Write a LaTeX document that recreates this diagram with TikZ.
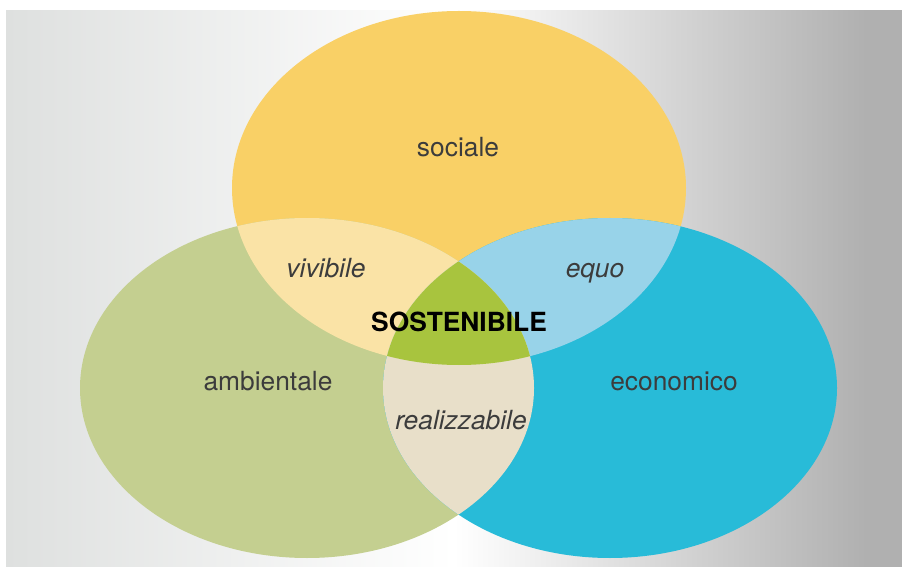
\documentclass[tikz,border=0pt]{standalone}
\usepackage{fontspec}
\setmainfont{TeX Gyre Heros}
\usepackage{xcolor}
\usepackage{tikz}
\usetikzlibrary{positioning, calc}

\definecolor{bgL}{RGB}{222,224,223}
\definecolor{bgR}{RGB}{176,176,176}
\definecolor{socFill}{RGB}{249,208,102}
\definecolor{ambFill}{RGB}{196,207,144}
\definecolor{ecoFill}{RGB}{40,187,216}
\definecolor{vivFill}{RGB}{250,227,166}
\definecolor{equFill}{RGB}{152,211,233}
\definecolor{reaFill}{RGB}{232,223,201}
\definecolor{sosFill}{RGB}{168,196,62}
\definecolor{txtGray}{RGB}{60,60,60}

% background: light gray -> white (middle) -> darker gray
\pgfdeclarehorizontalshading{bgshade}{100bp}{color(0bp)=(bgL); color(25bp)=(bgL); color(50bp)=(white); color(73bp)=(bgR); color(100bp)=(bgR)}

\tikzset{
  setlabel/.style={font=\fontsize{15}{18}\selectfont, text=txtGray, inner sep=1pt, anchor=base},
  pairlabel/.style={setlabel, font=\fontsize{15}{18}\selectfont\itshape},
  corelabel/.style={font=\fontsize{15}{18}\selectfont\bfseries, text=black, inner sep=1pt, anchor=base}
}

\begin{document}
\begin{tikzpicture}[x=0.02cm, y=-0.02cm]
  % pixel grid of the reference: 902 x 567
  \useasboundingbox (0,0) rectangle (902,567);
  \shade[shading=bgshade] (6,11) rectangle (902,567);
  % ellipse centres
  \coordinate (cSoc) at (459,188);
  \coordinate (cAmb) at (307,388);
  \coordinate (cEco) at (610,388);
  \def\socpath{(cSoc) ellipse [x radius=227, y radius=177]}
  \def\ambpath{(cAmb) ellipse [x radius=227, y radius=170]}
  \def\ecopath{(cEco) ellipse [x radius=227, y radius=170]}
  % single sets
  \fill[socFill] \socpath;
  \fill[ambFill] \ambpath;
  \fill[ecoFill] \ecopath;
  % pairwise overlaps
  \begin{scope}
    \clip \socpath;
    \fill[vivFill] \ambpath;
    \fill[equFill] \ecopath;
  \end{scope}
  \begin{scope}
    \clip \ambpath;
    \fill[reaFill] \ecopath;
    \clip \ecopath;
    \fill[sosFill] \socpath;
  \end{scope}
  % labels (placed on their baselines)
  \node[setlabel] (soc) at (458,157) {sociale};
  \node[setlabel] (amb) at (268,390) {ambientale};
  \node[setlabel] (eco) at (674,390) {economico};
  \node[pairlabel] (viv) at (326,278) {vivibile};
  \node[pairlabel] (equ) at (595,278) {equo};
  \node[pairlabel] (rea) at (461,429) {realizzabile};
  \node[corelabel] (sos) at (459,332) {SOSTENIBILE};
\end{tikzpicture}
\end{document}
